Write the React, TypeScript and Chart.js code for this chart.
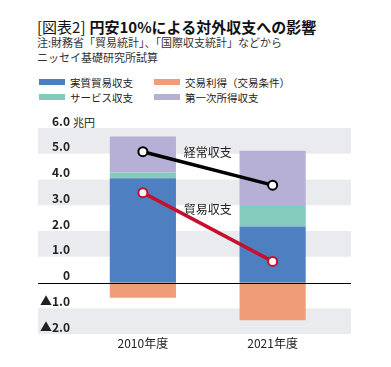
import React, { useEffect, useRef } from "react";
import { Chart, registerables } from "chart.js";
Chart.register(...registerables);

const categories = ["2010年度", "2021年度"];
const realTrade = [4.05, 2.17];
const tradeGain = [-0.59, -1.47];
const services = [0.22, 0.8];
const primaryIncome = [1.4, 2.15];
const currentAccount = [5.08, 3.78];
const tradeBalance = [3.49, 0.82];
const yTickValues = [-2, -1, 0, 1, 2, 3, 4, 5, 6];
const bandLows = [5, 3, 1, -2];
const bandHighs = [6, 4, 2, -1];
const lineLabelTexts = ["経常収支", "貿易収支"];
const lineLabelValues = [5.04, 2.85];

const FONT = '"Noto Sans CJK JP", "Noto Sans", sans-serif';

const fmtTick = (v: number) => {
  if (v === 0) return "0";
  if (v < 0) return "▲" + Math.abs(v).toFixed(1);
  return v.toFixed(1);
};

const bandPlugin = {
  id: "bands",
  beforeDraw(chart: any) {
    const { ctx, chartArea, scales } = chart;
    const y = scales.y;
    const left = chartArea.left - 40;
    const right = chartArea.right + 13.5;
    ctx.save();
    ctx.fillStyle = "#e9ebee";
    for (let i = 0; i < bandLows.length; i++) {
      const y1 = y.getPixelForValue(bandHighs[i]);
      const y2 = y.getPixelForValue(bandLows[i]);
      ctx.fillRect(left, y1, right - left, y2 - y1);
    }
    ctx.restore();
  },
  afterDatasetsDraw(chart: any) {
    const { ctx, chartArea, scales } = chart;
    const y = scales.y;
    const x = scales.x;
    const left = chartArea.left - 40;
    const right = chartArea.right + 13.5;
    const y0 = Math.round(y.getPixelForValue(0)) + 0.5;
    ctx.save();
    ctx.strokeStyle = "#000";
    ctx.lineWidth = 1;
    ctx.beginPath();
    ctx.moveTo(left, y0);
    ctx.lineTo(right, y0);
    ctx.stroke();
    const mid = (x.getPixelForValue(0) + x.getPixelForValue(1)) / 2;
    ctx.fillStyle = "#222";
    ctx.font = `12px ${FONT}`;
    ctx.textAlign = "center";
    ctx.textBaseline = "middle";
    for (let i = 0; i < lineLabelTexts.length; i++) {
      ctx.fillText(lineLabelTexts[i], mid, y.getPixelForValue(lineLabelValues[i]));
    }
    ctx.restore();
  },
};

function ChartCanvas() {
  const ref = useRef<HTMLCanvasElement>(null);
  useEffect(() => {
    if (!ref.current) return;
    const chart = new Chart(ref.current, {
      type: "bar",
      data: {
        labels: categories,
        datasets: [
          {
            type: "line",
            label: "経常収支",
            data: currentAccount,
            borderColor: "#000",
            borderWidth: 3.5,
            pointRadius: 4.5,
            pointBorderWidth: 2,
            pointBackgroundColor: "#fff",
            pointBorderColor: "#000",
            stack: "ca",
            order: 0,
          } as any,
          {
            type: "line",
            label: "貿易収支",
            data: tradeBalance,
            borderColor: "#c8102e",
            borderWidth: 3.5,
            pointRadius: 4.5,
            pointBorderWidth: 2,
            pointBackgroundColor: "#fff",
            pointBorderColor: "#c8102e",
            stack: "tb",
            order: 0,
          } as any,
          { label: "実質貿易収支", data: realTrade, backgroundColor: "#4e7fc1", stack: "bars", order: 1 },
          { label: "交易利得（交易条件）", data: tradeGain, backgroundColor: "#f09c78", stack: "bars", order: 1 },
          { label: "サービス収支", data: services, backgroundColor: "#84cbbd", stack: "bars", order: 1 },
          { label: "第一次所得収支", data: primaryIncome, backgroundColor: "#b6afd6", stack: "bars", order: 1 },
        ],
      },
      options: {
        responsive: false,
        animation: false,
        categoryPercentage: 0.51,
        barPercentage: 1,
        layout: { padding: { left: 38, right: 53.5, top: 23, bottom: 14.6 } },
        plugins: {
          legend: { display: false },
          tooltip: { enabled: false },
          title: { display: false },
        },
        scales: {
          x: {
            stacked: true,
            grid: { display: false, drawTicks: false },
            border: { display: false },
            ticks: { color: "#222", font: { family: FONT, size: 12 }, padding: 2 },
          },
          y: {
            stacked: true,
            min: -2,
            max: 6,
            afterBuildTicks: (s: any) => {
              s.ticks = yTickValues.map((v) => ({ value: v }));
            },
            afterFit: (s: any) => {
              s.width = 40;
            },
            grid: { display: false, drawTicks: false },
            border: { display: false },
            ticks: {
              color: "#222",
              padding: 8,
              labelOffset: -7,
              font: { family: FONT, size: 12, weight: "bold" },
              callback: (v: any) => fmtTick(Number(v)),
            },
          },
        },
      },
      plugins: [bandPlugin],
    } as any);
    return () => chart.destroy();
  }, []);
  return (
    <canvas
      ref={ref}
      width={391}
      height={262}
      style={{ position: "absolute", left: 0, top: 105, width: 391, height: 262 }}
    />
  );
}

const legendItems = [
  { label: "実質貿易収支", color: "#4e7fc1", x: 39, y: 82 },
  { label: "交易利得（交易条件）", color: "#f09c78", x: 154, y: 82 },
  { label: "サービス収支", color: "#84cbbd", x: 39, y: 97 },
  { label: "第一次所得収支", color: "#b6afd6", x: 154, y: 97 },
];

export default function App() {
  return (
    <div
      style={{
        position: "fixed",
        left: 0,
        top: 0,
        width: 391,
        height: 367,
        background: "#fff",
        fontFamily: FONT,
        overflow: "hidden",
      }}
    >
      <div style={{ position: "absolute", left: 37, top: 17, fontSize: 15, lineHeight: "20px", color: "#111", whiteSpace: "nowrap" }}>
        <span style={{ fontWeight: 400 }}>[図表2]</span>
        <span style={{ fontWeight: 700, marginLeft: 4 }}>円安10%による対外収支への影響</span>
      </div>
      <div style={{ position: "absolute", left: 37, top: 35, fontSize: 11, lineHeight: "15px", color: "#333", whiteSpace: "nowrap" }}>
        注:財務省「貿易統計」、「国際収支統計」などから
        <br />
        ニッセイ基礎研究所試算
      </div>
      {legendItems.map((it) => (
        <div
          key={it.label}
          style={{ position: "absolute", left: it.x, top: it.y - 8, height: 16, display: "flex", alignItems: "center", whiteSpace: "nowrap", fontSize: 10.5, color: "#222" }}
        >
          <span style={{ display: "inline-block", width: 26, height: 6, background: it.color, marginRight: 5 }} />
          <span>{it.label}</span>
        </div>
      ))}
      <div style={{ position: "absolute", left: 73, top: 114, fontSize: 11, lineHeight: "16px", color: "#222" }}>兆円</div>
      <ChartCanvas />
    </div>
  );
}
